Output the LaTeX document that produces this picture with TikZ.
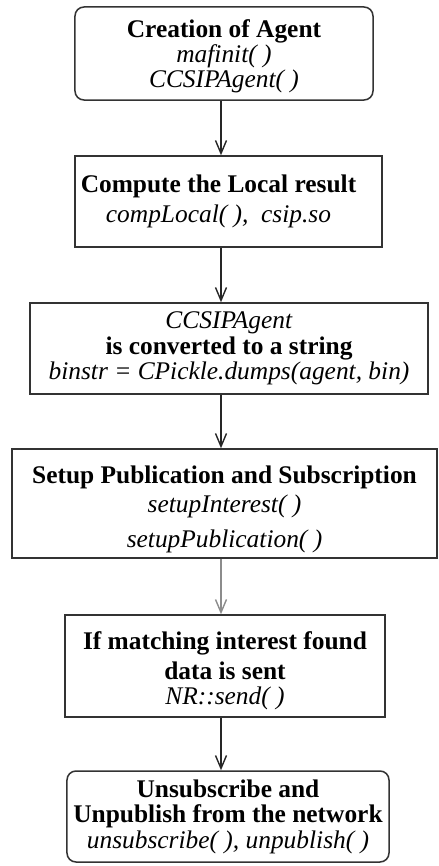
\documentclass[tikz,border=0pt]{standalone}
\usepackage{fontspec}
\setmainfont{Liberation Serif}
\usetikzlibrary{arrows.meta}
% invisible strut that lowers a text block inside its box
\newcommand{\lift}[1]{\rule{0pt}{#1}}
\begin{document}
\begin{tikzpicture}[x=1bp,y=-1bp,
  stepbox/.style={draw=black!80, line width=1.5bp, fill=white, align=center,
    inner sep=0pt, font=\fontsize{25.5}{25.5}\selectfont},
  roundbox/.style={stepbox, rounded corners=9bp},
  flow/.style={draw=black!85, line width=1.4bp,
    -{Straight Barb[length=13bp,width=11bp,line width=1.4bp]}},
  faintflow/.style={flow, draw=black!45},
]
\useasboundingbox (0,0) rectangle (439,866);

% vertical line that all the arrows follow
\coordinate (spine) at (221,0);

\node[roundbox, minimum width=298bp, minimum height=93bp] (create) at (224,53.5)
  {\lift{23.5bp}\textbf{Creation of Agent}\\ \textit{mafinit( )}\\ \textit{CCSIPAgent( )}};

\node[stepbox, minimum width=307bp, minimum height=91bp] (compute) at (228.5,201.5)
  {\textbf{Compute the Local result}\hspace*{20bp}\\[4.5bp]
   \textit{compLocal( ),\ \ csip.so}\hspace*{20bp}};

\node[stepbox, minimum width=398bp, minimum height=91bp] (pickle) at (229,348.5)
  {\textit{CCSIPAgent}\\ \textbf{is converted to a string}\\
   \textit{binstr = CPickle.dumps(agent, bin)}};

\node[stepbox, minimum width=425bp, minimum height=109bp] (setup) at (224.5,503.5)
  {\lift{29.5bp}\textbf{Setup Publication and Subscription}\\[3.5bp] \textit{setupInterest( )}\\[10.5bp]
   \textit{setupPublication( )}};

\node[stepbox, minimum width=320bp, minimum height=102bp] (send) at (225,666)
  {\lift{28bp}\textbf{If matching interest found}\\[4.5bp] \textbf{data is sent}\\ \textit{NR::send( )}};

\node[roundbox, minimum width=322bp, minimum height=91bp] (leave) at (228,816.5)
  {\textbf{Unsubscribe and}\\ \textbf{Unpublish from the network}\\
   \textit{unsubscribe( ), unpublish( )}};

\draw[flow]      (create.south  -| spine) -- (compute.north -| spine);
\draw[flow]      (compute.south -| spine) -- (pickle.north  -| spine);
\draw[flow]      (pickle.south  -| spine) -- (setup.north   -| spine);
\draw[faintflow] (setup.south   -| spine) -- (send.north    -| spine);
\draw[flow]      (send.south    -| spine) -- (leave.north   -| spine);
\end{tikzpicture}
\end{document}
